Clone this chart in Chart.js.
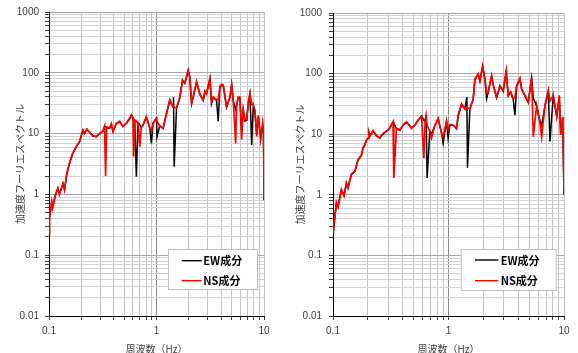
<!DOCTYPE html>
<html><head><meta charset="utf-8">
<script src="https://cdn.jsdelivr.net/npm/chart.js@4.4.0/dist/chart.umd.min.js"></script>
<style>
html,body{margin:0;padding:0;background:#fff;width:578px;height:353px;overflow:hidden;}
.wrap{position:absolute;top:0;height:353px;}
</style></head><body>
<div class="wrap" style="left:0;width:290px"><canvas id="c1" width="290" height="353"></canvas></div>
<div class="wrap" style="left:290px;width:288px"><canvas id="c2" width="288" height="353"></canvas></div>
<script>
// ---- data ----
const seriesNames = ['EW成分', 'NS成分'];
const xTitle = '周波数（Hz）';
const yTitle = '加速度フーリエスペクトル';
const xTickValues = [0.1,0.2,0.3,0.4,0.5,0.6,0.7,0.8,0.9,1,2,3,4,5,6,7,8,9,10];
const xTickLabels = ['0.1','1','10'];
const yTickValues = [0.01,0.02,0.03,0.04,0.05,0.06,0.07,0.08,0.09,
  0.1,0.2,0.3,0.4,0.5,0.6,0.7,0.8,0.9,1,2,3,4,5,6,7,8,9,
  10,20,30,40,50,60,70,80,90,100,200,300,400,500,600,700,800,900,1000];
const yTickLabels = ['0.01','0.1','1','10','100','1000'];

// left chart
const freqL = [
  0.1,0.101,0.106,0.108,0.115,0.121,0.125,0.135,0.1395,0.146,
  0.155,0.166,0.179,0.192,0.207,0.214,0.225,0.256,0.275,0.318,
  0.329,0.336,0.344,0.366,0.380,0.394,0.423,0.454,0.488,0.525,
  0.563,0.584,0.604,0.613,0.627,0.650,0.673,0.698,0.721,0.75,
  0.805,0.865,0.897,0.929,1.0,1.012,1.072,1.151,1.238,1.33,
  1.427,1.44,1.46,1.535,1.648,1.746,1.834,1.97,2.04,2.12,
  2.19,2.36,2.53,2.72,2.82,2.92,3.14,3.25,3.37,3.62,
  3.75,3.89,4.04,4.18,4.49,4.82,5.0,5.18,5.45,5.56,
  5.76,5.97,6.19,6.41,6.65,6.90,7.14,7.40,7.68,7.95,
  8.24,8.55,8.85,9.31,9.72,9.9,10];
const nsL = [
  0.23,0.43,0.76,0.6,1.0,1.27,1.0,1.52,1.18,2.17,
  3.3,4.8,6.1,7.36,11.2,10.2,11.7,9.2,8.9,11.2,
  13.3,2.0,12.8,12.4,14.5,10.8,14.8,16,13,15,
  18,20,18,4.2,16.7,16,15,6.1,12.4,14,
  19,12.4,11,15,18,16,13.3,12.3,21.6,36,
  27.7,28,27,26.4,40,76,68,111,86,32,
  40,71,45,36,50,46,81,33,40,36,
  36,60,65,63,28,40,65,35,6.9,30,
  40,40,8,25,17,17,32,46,30,30,
  24,9,20,8,15,10,0.9];
const ewL = [
  0.2,0.4,0.74,0.62,0.98,1.25,1.02,1.5,1.2,2.1,
  3.2,4.7,6.0,7.3,11.5,10.0,11.9,9.1,8.9,11.0,
  13.0,13.0,12.6,12.2,14.2,11.0,14.5,15.6,13.2,14.8,
  17.5,20.5,18.5,17.5,16.2,1.95,15.2,14,12.6,13.8,
  18.5,12.6,6.9,14.8,18,8.9,13.5,12.1,21,35,
  27,40,2.86,26,39,74,67,108,84,31,
  39,70,44,35,49,45,79,31,39,35,
  16,58,63,61,27,39,63,34,25,29,
  39,38,11,24,16,16.5,31,44,6.5,29,
  23,9.5,19,8.5,14,10,0.8];

// right chart
const freqR = [
  0.1,0.1034,0.107,0.1105,0.1183,0.1246,0.1306,0.1349,0.1443,0.1491,
  0.1542,0.1647,0.1763,0.182,0.1883,0.1948,0.2011,0.204,0.208,0.2153,
  0.2223,0.238,0.254,0.2628,0.275,0.2998,0.310,0.331,0.336,0.3546,
  0.3786,0.4045,0.4328,0.4784,0.5108,0.5458,0.5841,0.6113,0.6274,0.64,
  0.653,0.6893,0.7129,0.7616,0.8137,0.8707,0.8988,0.9617,0.993,1.027,
  1.097,1.174,1.212,1.297,1.386,1.442,1.46,1.531,1.636,1.692,
  1.807,1.870,1.974,2.066,2.138,2.207,2.361,2.45,2.609,2.787,
  2.977,3.16,3.289,3.45,3.635,3.76,3.89,4.155,4.298,4.59,
  4.903,5.248,5.419,5.799,6.108,6.406,6.843,7.309,7.561,8.075,
  8.644,9.106,9.364,9.744,10];
const nsR = [
  0.23,0.42,0.75,0.62,1.23,0.96,1.58,1.3,2.2,2.3,
  2.45,3.8,4.6,6.0,6.7,8.1,8.6,11,9.7,10.3,
  11.5,9.5,8.6,9.5,10.5,11.8,12.8,16.1,1.9,12.5,
  11.8,14.2,16.1,12.5,14.2,17.1,19.4,4.0,16,20.6,
  14,11,8.6,14,18.2,10.3,9,16.1,12,14.5,
  14.2,12.5,20.6,31.9,26.5,28,27,26.5,38.5,81.6,
  98.5,76.9,135,81.6,48,50,92.8,63.7,41,63.7,
  52.8,112,43.8,50,38.5,40,63.7,83.8,56,43.8,
  34,87,9.1,30,18.2,9.1,30,52.8,35,43.8,
  20,43.8,9.7,19.4,1.2];
const ewR = [
  0.2,0.4,0.72,0.64,1.2,0.98,1.55,1.32,2.15,2.3,
  2.4,3.7,4.5,5.9,6.6,8.0,8.5,11.2,9.1,10.2,
  11.3,9.4,8.7,9.4,10.3,11.6,12.6,15.8,15,12.3,
  11.6,14,15.8,12.7,14,16.8,20,17,16.5,20.6,
  1.9,11.2,10,13.8,18,10.5,7.1,16.5,8.6,14.2,
  14,12.3,20,31,26,41,2.8,26,37.5,80,
  96,75,130,80,38.5,49,90,62,40,62,
  51,108,43,49,37.5,20.6,62,82,55,43,
  33,85,40,29,18,14,29,51,7.6,43,
  19.5,42,10,19,1.0];

// ---- drawing ----
const seriesColors = ['#000000', '#ff0000'];

function labelFor(v, labels) {
  for (const l of labels) {
    if (Math.abs(Math.log10(v) - Math.log10(parseFloat(l))) < 1e-6) return l;
  }
  return '';
}
function isDecade(v) {
  const l = Math.log10(v);
  return Math.abs(l - Math.round(l)) < 1e-6;
}

function makeChart(id, W, H, freq, ew, ns, cfg) {
  const legendPlugin = {
    id: 'boxLegend',
    afterDraw(chart) {
      const ctx = chart.ctx;
      const b = cfg.legend;
      ctx.save();
      ctx.fillStyle = '#ffffff';
      ctx.fillRect(b.x, b.y, b.w, b.h);
      ctx.strokeStyle = '#bfbfbf';
      ctx.lineWidth = 1;
      ctx.strokeRect(b.x + 0.5, b.y + 0.5, b.w - 1, b.h - 1);
      const rows = [b.row1, b.row2];
      chart.data.datasets.forEach((ds, i) => {
        const yy = b.y + rows[i];
        ctx.strokeStyle = ds.borderColor;
        ctx.lineWidth = 1.4;
        ctx.beginPath();
        ctx.moveTo(b.x + b.l0, yy);
        ctx.lineTo(b.x + b.l1, yy);
        ctx.stroke();
        ctx.fillStyle = '#000';
        ctx.font = 'bold 11px "Noto Sans CJK JP"';
        ctx.textBaseline = 'middle';
        ctx.textAlign = 'left';
        ctx.fillText(ds.label, b.x + b.tx, yy + 0.5);
      });
      ctx.restore();
    }
  };
  return new Chart(document.getElementById(id), {
    type: 'line',
    data: {
      datasets: [
        { label: seriesNames[0], data: freq.map((f, i) => ({x: f, y: ew[i]})),
          borderColor: seriesColors[0], borderWidth: 1.5, pointRadius: 0, tension: 0, order: 2 },
        { label: seriesNames[1], data: freq.map((f, i) => ({x: f, y: ns[i]})),
          borderColor: seriesColors[1], borderWidth: 1.7, pointRadius: 0, tension: 0, order: 1 }
      ]
    },
    options: {
      responsive: false,
      animation: false,
      devicePixelRatio: 1,
      layout: { padding: { left: 0, top: cfg.top, right: W - cfg.right, bottom: -2 } },
      plugins: { legend: { display: false }, tooltip: { enabled: false } },
      scales: {
        x: {
          type: 'logarithmic', min: 0.1, max: 10,
          afterBuildTicks: s => { s.ticks = xTickValues.map(v => ({value: v})); },
          afterFit: s => { s.height = H + 2 - cfg.bottom; },
          ticks: { autoSkip: false, maxRotation: 0, padding: 5,
            font: { family: 'Liberation Sans', size: 10 }, color: '#404040',
            callback: v => labelFor(v, xTickLabels) },
          grid: { color: c => (c.tick && Math.abs(c.tick.value - 1) < 1e-9) ? '#8c8c8c' : '#c4c4c4',
            tickColor: '#404040', tickLength: 4, lineWidth: 1 },
          border: { color: '#000', width: 1 },
          title: { display: true, text: xTitle, color: '#404040', padding: 0,
            font: { family: 'Noto Sans CJK JP', size: 10, lineHeight: 1.2 } }
        },
        y: {
          type: 'logarithmic', min: 0.01, max: 1000,
          afterBuildTicks: s => { s.ticks = yTickValues.map(v => ({value: v})); },
          afterFit: s => { s.width = cfg.left; },
          ticks: { autoSkip: false, padding: cfg.yPad,
            font: { family: 'Liberation Sans', size: 10 }, color: '#404040',
            callback: v => labelFor(v, yTickLabels) },
          grid: { color: c => (c.tick && isDecade(c.tick.value)) ? '#a6a6a6' : '#d2d2d2',
            tickColor: '#404040', tickLength: 4, lineWidth: 1 },
          border: { color: '#000', width: 1 },
          title: { display: true, text: yTitle, color: '#404040', padding: { top: cfg.yTitlePad, bottom: 0 },
            font: { family: 'Noto Sans CJK JP', size: 10, lineHeight: 1.2 } }
        }
      }
    },
    plugins: [legendPlugin]
  });
}

makeChart('c1', 290, 353, freqL, ewL, nsL, {
  left: 49, right: 264, top: 12, bottom: 316, yPad: 6, yTitlePad: 14,
  legend: { x: 168, y: 249, w: 90, h: 41, row1: 11.7, row2: 31.7, l0: 13.7, l1: 33.7, tx: 35.3 }
});
makeChart('c2', 288, 353, freqR, ewR, nsR, {
  left: 43, right: 274, top: 10, bottom: 316, yPad: 7, yTitlePad: 4,
  legend: { x: 170.7, y: 249, w: 96, h: 42, row1: 11, row2: 31.7, l0: 14.3, l1: 37.6, tx: 40 }
});
</script></body></html>
